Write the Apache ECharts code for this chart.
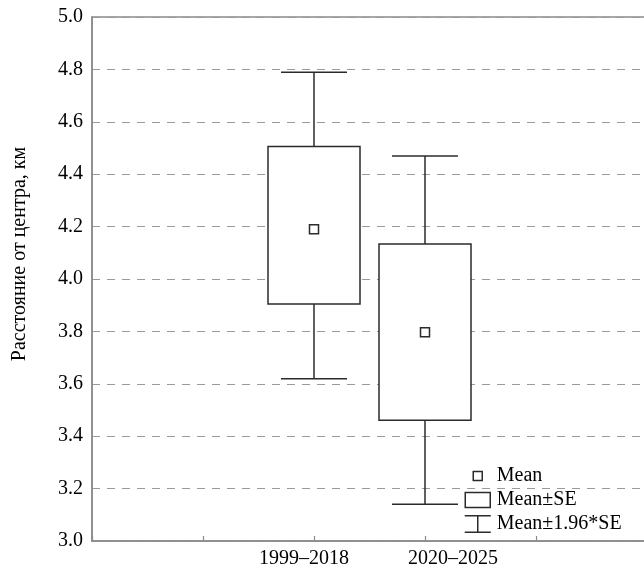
<!DOCTYPE html>
<html>
<head>
<meta charset="utf-8">
<script src="https://cdn.jsdelivr.net/npm/echarts@6/dist/echarts.min.js"></script>
<style>
  html, body { margin: 0; padding: 0; background: #fff; }
  #chart { width: 644px; height: 571px; }
</style>
</head>
<body>
<div id="chart"></div>
<script>
// Distance from the centre by period: mean, ±SE box and ±1.96·SE whiskers
const periods = ['1999–2018', '2020–2025'];
const periodSlot = [2, 3];
const means  = [4.19, 3.797];
const seLow  = [3.905, 3.461];
const seHigh = [4.506, 4.134];
const ciLow  = [3.619, 3.140];
const ciHigh = [4.789, 4.469];

const FONT = '"Liberation Serif", "DejaVu Serif", serif';
const INK = '#2b2b2b';
const AXIS = '#8a8a8a';

const rows = periods.map((p, i) => [periodSlot[i], means[i], seLow[i], seHigh[i], ciLow[i], ciHigh[i]]);

const chart = echarts.init(document.getElementById('chart'));

chart.setOption({
  animation: false,
  backgroundColor: '#fff',
  grid: {
    left: 92, width: 555, top: 17, bottom: 30,
    outerBoundsMode: 'none',
    containLabel: false,
    show: true, borderColor: AXIS, borderWidth: 1.5, backgroundColor: 'transparent'
  },
  xAxis: {
    type: 'value', min: 0, max: 5, interval: 1,
    axisLine: { show: true, lineStyle: { color: AXIS, width: 1.5 } },
    axisTick: { show: true, inside: true, length: 5, lineStyle: { color: AXIS, width: 1.2 } },
    splitLine: { show: false },
    axisLabel: {
      margin: 8,
      color: '#000',
      fontFamily: FONT,
      fontSize: 20,
      formatter: function (v) {
        const i = periodSlot.indexOf(v);
        if (i < 0) return '';
        return (i === 0 ? '{a|' : '{b|') + periods[i] + '}';
      },
      rich: {
        a: { fontFamily: FONT, fontSize: 20, color: '#000', padding: [0, 20, 0, 0] },
        b: { fontFamily: FONT, fontSize: 20, color: '#000', padding: [0, 0, 0, 56] }
      }
    }
  },
  yAxis: {
    type: 'value', min: 3, max: 5, interval: 0.2,
    name: 'Расстояние от центра, км',
    nameLocation: 'middle',
    nameGap: 62,
    nameRotate: 90,
    nameTextStyle: { fontFamily: FONT, fontSize: 20, color: '#000', padding: [0, 0, 0, 50] },
    axisLine: { show: true, lineStyle: { color: AXIS, width: 1.5 } },
    axisTick: { show: false },
    splitLine: { show: true, lineStyle: { color: '#9a9a9a', type: [8, 7], width: 1.2 } },
    axisLabel: {
      margin: 9, color: '#000', fontFamily: FONT, fontSize: 20,
      formatter: v => v.toFixed(1)
    }
  },
  legend: {
    orient: 'vertical',
    left: 458, top: 460,
    itemWidth: 28, itemHeight: 18, itemGap: 2,
    selectedMode: false,
    textStyle: { fontFamily: FONT, fontSize: 20, lineHeight: 20, color: '#000', padding: [2, 0, 0, 0] },
    data: [
      { name: 'Mean', icon: 'path://M0,0M28,18M9.5,4.5h9v9h-9z',
        itemStyle: { color: '#fff', borderColor: INK, borderWidth: 1.5 } },
      { name: 'Mean±SE', icon: 'path://M0,0M28,18M1.5,1.5h25v15h-25z',
        itemStyle: { color: '#fff', borderColor: INK, borderWidth: 1.5 } },
      { name: 'Mean±1.96*SE', icon: 'path://M0,0M28,18M1,0.8H27M14,0.8V17.2M1,17.2H27',
        itemStyle: { color: '#fff', borderColor: INK, borderWidth: 1.5 } }
    ]
  },
  series: [
    {
      name: 'Mean±1.96*SE',
      type: 'custom',
      z: 2,
      data: rows,
      encode: { x: 0, y: [4, 5] },
      renderItem: function (params, api) {
        const x = api.value(0);
        const lo = api.coord([x, api.value(4)]);
        const hi = api.coord([x, api.value(5)]);
        const half = 33;
        const style = { stroke: INK, lineWidth: 1.5, fill: null };
        return {
          type: 'group',
          children: [
            { type: 'line', shape: { x1: lo[0], y1: lo[1], x2: hi[0], y2: hi[1] }, style },
            { type: 'line', shape: { x1: hi[0] - half, y1: hi[1], x2: hi[0] + half, y2: hi[1] }, style },
            { type: 'line', shape: { x1: lo[0] - half, y1: lo[1], x2: lo[0] + half, y2: lo[1] }, style }
          ]
        };
      }
    },
    {
      name: 'Mean±SE',
      type: 'custom',
      z: 3,
      data: rows,
      encode: { x: 0, y: [2, 3] },
      renderItem: function (params, api) {
        const x = api.value(0);
        const lo = api.coord([x, api.value(2)]);
        const hi = api.coord([x, api.value(3)]);
        const w = 92;
        return {
          type: 'rect',
          shape: { x: lo[0] - w / 2, y: hi[1], width: w, height: lo[1] - hi[1] },
          style: { fill: '#fff', stroke: INK, lineWidth: 1.5 }
        };
      }
    },
    {
      name: 'Mean',
      type: 'scatter',
      z: 4,
      symbol: 'rect',
      symbolSize: 9,
      data: rows.map(r => [r[0], r[1]]),
      itemStyle: { color: '#fff', borderColor: INK, borderWidth: 1.5, opacity: 1 }
    }
  ]
});
</script>
</body>
</html>
